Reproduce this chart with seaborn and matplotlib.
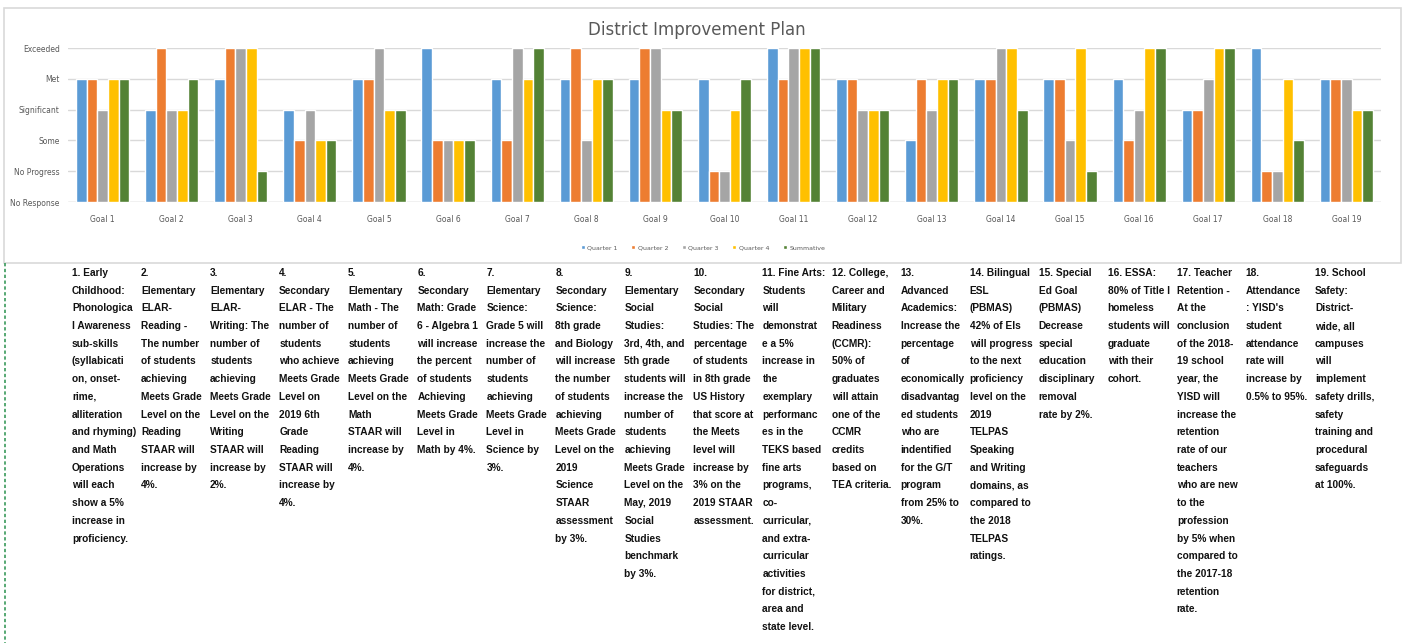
import matplotlib
matplotlib.use("Agg")
import matplotlib.pyplot as plt
import seaborn as sns
import pandas as pd
from matplotlib.patches import Rectangle
from matplotlib.lines import Line2D
from matplotlib import font_manager

goals = [f"Goal {i}" for i in range(1, 20)]
levels = ["No Response", "No Progress", "Some", "Significant", "Met", "Exceeded"]
series_names = ["Quarter 1", "Quarter 2", "Quarter 3", "Quarter 4", "Summative"]

quarter1 = [4, 3, 4, 3, 4, 5, 4, 4, 4, 4, 5, 4, 2, 4, 4, 4, 3, 5, 4]
quarter2 = [4, 5, 5, 2, 4, 2, 2, 5, 5, 1, 4, 4, 4, 4, 4, 2, 3, 1, 4]
quarter3 = [3, 3, 5, 3, 5, 2, 5, 2, 5, 1, 5, 3, 3, 5, 2, 3, 4, 1, 4]
quarter4 = [4, 3, 5, 2, 3, 2, 4, 4, 3, 3, 5, 3, 4, 5, 5, 5, 5, 4, 3]
summative = [4, 4, 1, 2, 3, 2, 5, 4, 3, 4, 5, 3, 4, 3, 1, 5, 5, 2, 3]

goal_texts = [
    ["1. Early", "Childhood:", "Phonologica", "l Awareness", "sub-skills", "(syllabicati", "on, onset-",
     "rime,", "alliteration", "and rhyming)", "and Math", "Operations", "will each", "show a 5%",
     "increase in", "proficiency."],
    ["2.", "Elementary", "ELAR-", "Reading -", "The number", "of students", "achieving", "Meets Grade",
     "Level on the", "Reading", "STAAR will", "increase by", "4%."],
    ["3.", "Elementary", "ELAR-", "Writing: The", "number of", "students", "achieving", "Meets Grade",
     "Level on the", "Writing", "STAAR will", "increase by", "2%."],
    ["4.", "Secondary", "ELAR - The", "number of", "students", "who achieve", "Meets Grade", "Level on",
     "2019 6th", "Grade", "Reading", "STAAR will", "increase by", "4%."],
    ["5.", "Elementary", "Math - The", "number of", "students", "achieving", "Meets Grade",
     "Level on the", "Math", "STAAR will", "increase by", "4%."],
    ["6.", "Secondary", "Math: Grade", "6 - Algebra 1", "will increase", "the percent", "of students",
     "Achieving", "Meets Grade", "Level in", "Math by 4%."],
    ["7.", "Elementary", "Science:", "Grade 5 will", "increase the", "number of", "students",
     "achieving", "Meets Grade", "Level in", "Science by", "3%."],
    ["8.", "Secondary", "Science:", "8th grade", "and Biology", "will increase", "the number",
     "of students", "achieving", "Meets Grade", "Level on the", "2019", "Science", "STAAR",
     "assessment", "by 3%."],
    ["9.", "Elementary", "Social", "Studies:", "3rd, 4th, and", "5th grade", "students will",
     "increase the", "number of", "students", "achieving", "Meets Grade", "Level on the",
     "May, 2019", "Social", "Studies", "benchmark", "by 3%."],
    ["10.", "Secondary", "Social", "Studies: The", "percentage", "of students", "in 8th grade",
     "US History", "that score at", "the Meets", "level will", "increase by", "3% on the",
     "2019 STAAR", "assessment."],
    ["11. Fine Arts:", "Students", "will", "demonstrat", "e a 5%", "increase in", "the",
     "exemplary", "performanc", "es in the", "TEKS based", "fine arts", "programs,", "co-",
     "curricular,", "and extra-", "curricular", "activities", "for district,", "area and",
     "state level."],
    ["12. College,", "Career and", "Military", "Readiness", "(CCMR):", "50% of", "graduates",
     "will attain", "one of the", "CCMR", "credits", "based on", "TEA criteria."],
    ["13.", "Advanced", "Academics:", "Increase the", "percentage", "of", "economically",
     "disadvantag", "ed students", "who are", "indentified", "for the G/T", "program",
     "from 25% to", "30%."],
    ["14. Bilingual", "ESL", "(PBMAS)", "42% of Els", "will progress", "to the next",
     "proficiency", "level on the", "2019", "TELPAS", "Speaking", "and Writing", "domains, as",
     "compared to", "the 2018", "TELPAS", "ratings."],
    ["15. Special", "Ed Goal", "(PBMAS)", "Decrease", "special", "education", "disciplinary",
     "removal", "rate by 2%."],
    ["16. ESSA:", "80% of Title I", "homeless", "students will", "graduate", "with their",
     "cohort."],
    ["17. Teacher", "Retention -", "At the", "conclusion", "of the 2018-", "19 school",
     "year, the", "YISD will", "increase the", "retention", "rate of our", "teachers",
     "who are new", "to the", "profession", "by 5% when", "compared to", "the 2017-18",
     "retention", "rate."],
    ["18.", "Attendance", ": YISD's", "student", "attendance", "rate will", "increase by",
     "0.5% to 95%."],
    ["19. School", "Safety:", "District-", "wide, all", "campuses", "will", "implement",
     "safety drills,", "safety", "training and", "procedural", "safeguards", "at 100%."],
]

colors = ["#5B9BD5", "#ED7D31", "#A5A5A5", "#FFC000", "#548235"]

rows = []
for name, vals in zip(series_names, [quarter1, quarter2, quarter3, quarter4, summative]):
    for g, v in zip(goals, vals):
        rows.append({"Goal": g, "Series": name, "Value": v})
df = pd.DataFrame(rows)

sns.set_theme(style="white")
W, H = 1407, 643
fig = plt.figure(figsize=(W / 100, H / 100), dpi=100)

# chart frame
fig.add_artist(Rectangle((4 / W, 1 - 263 / H), (1401 - 4) / W, (263 - 8) / H,
                         transform=fig.transFigure, fill=False, edgecolor="#D9D9D9", lw=1.2))

ax = fig.add_axes([68 / W, 1 - 202 / H, (1381 - 68) / W, (202 - 48) / H])
sns.barplot(data=df, x="Goal", y="Value", hue="Series", palette=colors, width=0.77,
            gap=0, saturation=1, ax=ax, legend=True, errorbar=None)
ax.set_ylim(0, 5)
ax.set_xlim(-0.5, len(goals) - 0.5)
ax.set_yticks(range(len(levels)))
ax.set_yticklabels(levels, fontsize=5.5, color="#595959")
ax.set_xlabel("")
ax.set_ylabel("")
ax.tick_params(axis="x", labelsize=5.5, labelcolor="#595959", length=0, pad=9)
ax.tick_params(axis="y", length=0, pad=6)
ax.yaxis.grid(True, color="#D9D9D9", lw=1)
ax.set_axisbelow(True)
for s in ax.spines.values():
    s.set_visible(False)
ax.axhline(0, color="#D9D9D9", lw=1, zorder=0)

handles, labels = ax.get_legend_handles_labels()
ax.legend_.remove()
fig.legend(handles, labels, loc="center", bbox_to_anchor=(703 / W, 1 - 248 / H), ncol=5,
           frameon=False, fontsize=4.5, handlelength=0.6, handleheight=0.6,
           columnspacing=2.2, handletextpad=0.4, labelcolor="#595959")

fig.text(697 / W, 1 - 30 / H, "District Improvement Plan", ha="center", va="center",
         fontsize=12, color="#595959")

# dashed left marker
fig.add_artist(Line2D([5 / W, 5 / W], [1 - 263 / H, 0], transform=fig.transFigure,
                      color="#3A9A5B", lw=1.2, ls=(0, (2, 1.5))))

avail = {f.name for f in font_manager.fontManager.ttflist}
fam = ["Liberation Sans Narrow"] if "Liberation Sans Narrow" in avail else ["Liberation Sans"]
fs = 8.8 if fam[0] == "Liberation Sans Narrow" else 7.3

for i, lines in enumerate(goal_texts):
    x0 = 72 + i * 69.05
    for j, line in enumerate(lines):
        y = 273 + j * 17.7
        fig.text(x0 / W, 1 - y / H, line, ha="left", va="center", fontsize=fs,
                 fontweight="bold", family=fam + ["DejaVu Sans"], color="#111111")

fig.savefig("out.png", dpi=100)
